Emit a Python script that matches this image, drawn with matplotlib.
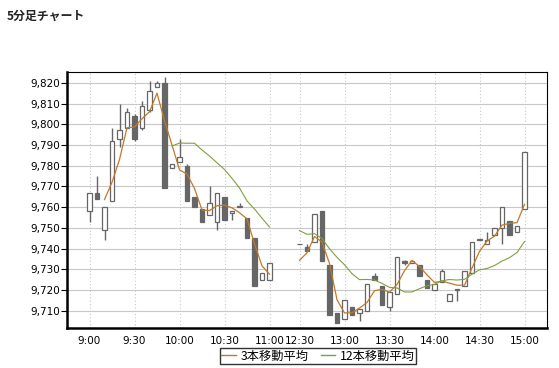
import numpy as np
import pandas as pd
import matplotlib
matplotlib.use("Agg")
import matplotlib.pyplot as plt
from matplotlib.patches import Rectangle

plt.rcParams['font.family'] = ['DejaVu Sans', 'Noto Sans CJK JP']

# slot index of each 5-minute bar (morning 0..24, afternoon 28..58)
slots = list(range(0, 25)) + list(range(28, 59))

opens = [9758, 9767, 9749, 9763, 9793, 9798, 9804, 9798, 9807, 9818,
         9820, 9779, 9782, 9780, 9765, 9759, 9756, 9753, 9765, 9757,
         9760, 9755, 9745, 9725, 9725,
         9742, 9741, 9743, 9758, 9732, 9709, 9706, 9712, 9709, 9710,
         9727, 9722, 9712, 9718, 9734, 9733, 9732, 9725, 9720, 9724,
         9714.5, 9720, 9722, 9728, 9744, 9742, 9746.5, 9750, 9753.5, 9748,
         9759]
closes = [9767, 9764, 9760, 9792, 9797, 9806, 9793, 9809, 9816, 9820,
          9769, 9781, 9784, 9763, 9760, 9753, 9762, 9767, 9754, 9758,
          9760, 9745, 9722, 9728, 9733,
          9742, 9739, 9756.5, 9734, 9708, 9704, 9715, 9708, 9711, 9723,
          9725, 9713, 9719, 9736, 9733, 9734, 9727, 9721, 9723, 9729,
          9718, 9720, 9729, 9743, 9744, 9744, 9750, 9760, 9746.5, 9751,
          9786.5]
highs = [9767, 9775, 9760, 9798, 9810, 9808, 9805, 9811, 9821, 9821,
         9823, 9781, 9793, 9781, 9765, 9759, 9770, 9767, 9765, 9758,
         9762, 9755, 9745, 9728, 9733,
         9742, 9742, 9756.5, 9758, 9732, 9709, 9715, 9712, 9711, 9723,
         9728, 9722, 9719, 9736, 9734.5, 9734, 9732, 9725, 9723, 9730,
         9718, 9720, 9729, 9743, 9744, 9748, 9750, 9760, 9753.5, 9751,
         9786.5]
lows = [9753, 9764, 9744, 9763, 9789, 9798, 9792, 9797, 9806, 9818,
        9769, 9779, 9782, 9763, 9760, 9753, 9756, 9749, 9754, 9754,
        9760, 9745, 9722, 9725, 9725,
        9742, 9739, 9743, 9734, 9708, 9704, 9706, 9708, 9705, 9710,
        9725, 9713, 9710, 9718, 9732, 9733, 9727, 9721, 9720, 9724,
        9714.5, 9714.5, 9722, 9728, 9744, 9742, 9746.5, 9742, 9746.5, 9748,
        9759]

tick_slots = [0, 6, 12, 18, 24, 28, 34, 40, 46, 52, 58]
tick_labels = ['9:00', '9:30', '10:00', '10:30', '11:00', '12:30',
               '13:00', '13:30', '14:00', '14:30', '15:00']
y_ticks = list(range(9710, 9821, 10))

df = pd.DataFrame({'slot': slots, 'open': opens, 'close': closes,
                   'high': highs, 'low': lows})
df['ma3'] = df['close'].rolling(3).mean()
df['ma12'] = df['close'].rolling(12).mean()

fig = plt.figure(figsize=(5.59, 3.68), dpi=100)
ax = fig.add_axes([67 / 559, 1 - 328 / 368, 480 / 559, 256 / 368])

candle_color = '#666666'
w = 4.2 / 7.5
for _, r in df.iterrows():
    x = r['slot']
    ax.plot([x, x], [r['low'], r['high']], color=candle_color, lw=1, zorder=3,
            solid_capstyle='butt')
    lo, hi = min(r['open'], r['close']), max(r['open'], r['close'])
    h = max(hi - lo, 0.4)
    up = r['close'] >= r['open']
    ax.add_patch(Rectangle((x - w / 2, lo), w, h,
                           facecolor='white' if up else candle_color,
                           edgecolor=candle_color, lw=0.9, zorder=4))

ma3_color = '#C07A28'
ma12_color = '#7FA040'
for seg in (df[df['slot'] <= 24], df[df['slot'] >= 28]):
    ax.plot(seg['slot'], seg['ma3'], color=ma3_color, lw=0.9, zorder=5)
    ax.plot(seg['slot'], seg['ma12'], color=ma12_color, lw=0.8, zorder=5)

ax.set_xlim(-3, 61)
ax.set_ylim(9701.7, 9825.2)
ax.set_yticks(y_ticks)
ax.set_yticklabels([f'{v:,}' for v in y_ticks])
ax.set_xticks(tick_slots)
ax.set_xticklabels(tick_labels)
ax.tick_params(axis='y', length=4, width=0.8, labelsize=7.5, pad=1)
ax.tick_params(axis='x', length=0, labelsize=7.5, pad=6)

ax.grid(axis='y', color='#C8C8C8', lw=0.8, zorder=0)
ax.grid(axis='x', color='#C8C8C8', lw=0.8, ls=(0, (1, 2)), zorder=0)
ax.set_axisbelow(True)

for side in ('top', 'right'):
    ax.spines[side].set_linewidth(0.8)
for side in ('left', 'bottom'):
    ax.spines[side].set_linewidth(1.8)

fig.text(7 / 559, 1 - 16 / 368, '5分足チャート', fontsize=8.6, fontweight='bold',
         family=['Noto Sans CJK JP'], va='center', ha='left', color='#222222')

h1, = ax.plot([], [], color=ma3_color, lw=1)
h2, = ax.plot([], [], color=ma12_color, lw=1)
leg = fig.legend([h1, h2], ['3本移動平均', '12本移動平均'], loc='center',
                 bbox_to_anchor=(318 / 559, 1 - 356 / 368), ncol=2,
                 frameon=True, fancybox=False, edgecolor='black',
                 prop={'family': ['Noto Sans CJK JP'], 'size': 8.8},
                 handlelength=1.2, handletextpad=0.4, columnspacing=1.0,
                 borderpad=0.1, borderaxespad=0)
leg.get_frame().set_linewidth(1.0)

fig.savefig('out.png', dpi=100, facecolor='white')
